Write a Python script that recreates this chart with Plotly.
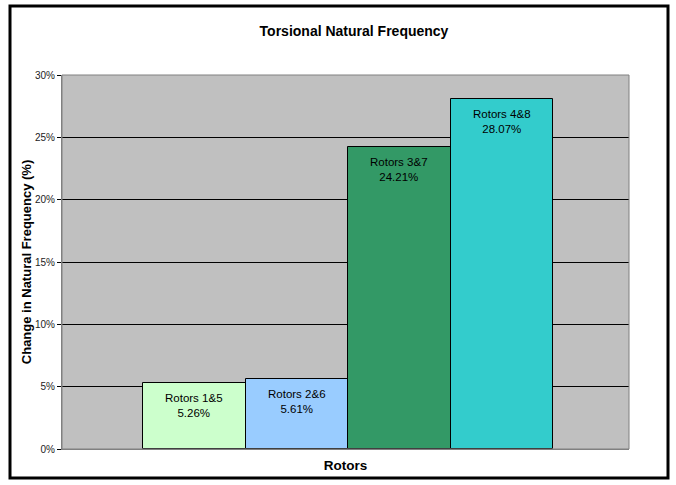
import plotly.graph_objects as go

# Change in torsional natural frequency per rotor pair
rotor_pairs = ["Rotors 1&5", "Rotors 2&6", "Rotors 3&7", "Rotors 4&8"]
freq_change = [0.0526, 0.0561, 0.2421, 0.2807]
bar_colors = ["#CCFFCC", "#99CCFF", "#339966", "#33CCCC"]
y_ticks = [0, 0.05, 0.10, 0.15, 0.20, 0.25, 0.30]

W, H = 676, 485
L, R, T, B = 62, 47, 75, 36
pw, ph = W - L - R, H - T - B

FONT = "Arial, Liberation Sans, Helvetica, sans-serif"
x_pos = list(range(len(rotor_pairs)))

fig = go.Figure(
    go.Bar(
        x=x_pos,
        y=freq_change,
        width=1,
        marker=dict(color=bar_colors, line=dict(color="black", width=1)),
        hoverinfo="skip",
    )
)

# value labels just inside the top of each bar
for xi, name, val in zip(x_pos, rotor_pairs, freq_change):
    fig.add_annotation(
        x=xi, y=val, xref="x", yref="y",
        text=f"{name}<br>{val:.2%}",
        showarrow=False, yanchor="top", yshift=-7,
        align="center",
        font=dict(family=FONT, size=11.5, color="black"),
    )

# outer chart frame and plot-area border
fig.add_shape(
    type="rect", xref="paper", yref="paper",
    x0=(10 - L) / pw, x1=(668 - L) / pw,
    y0=((H - B) - 478) / ph, y1=((H - B) - 6) / ph,
    line=dict(color="black", width=3), layer="below",
)
fig.add_shape(
    type="rect", xref="paper", yref="paper", x0=0, x1=1, y0=0, y1=1,
    line=dict(color="#808080", width=1), layer="above",
)

fig.update_layout(
    width=W, height=H,
    margin=dict(l=L, r=R, t=T, b=B, pad=0),
    paper_bgcolor="white",
    plot_bgcolor="#C0C0C0",
    showlegend=False,
    bargap=0,
    font=dict(family=FONT, color="black"),
    title=dict(
        text="<b>Torsional Natural Frequency</b>",
        x=354 / W, xanchor="center",
        y=1 - 31 / H, yanchor="middle",
        font=dict(family=FONT, size=14, color="black"),
    ),
    xaxis=dict(
        range=[-1.29, 4.24],
        showticklabels=False,
        ticks="",
        showgrid=False,
        zeroline=False,
        showline=True, linecolor="#808080", linewidth=1,
        title=dict(text="<b>Rotors</b>", font=dict(family=FONT, size=13.5), standoff=11),
        fixedrange=True,
    ),
    yaxis=dict(
        range=[0, 0.30],
        tickvals=y_ticks,
        tickformat=".0%",
        ticks="outside", ticklen=4, tickcolor="black",
        tickfont=dict(family=FONT, size=10, color="#222222"),
        showgrid=True, gridcolor="black", gridwidth=1,
        zeroline=False,
        showline=True, linecolor="#808080", linewidth=1,
        title=dict(text="<b>Change in Natural Frequency (%)</b>",
                   font=dict(family=FONT, size=13), standoff=0),
        fixedrange=True,
    ),
)

fig.write_html("out.html")
